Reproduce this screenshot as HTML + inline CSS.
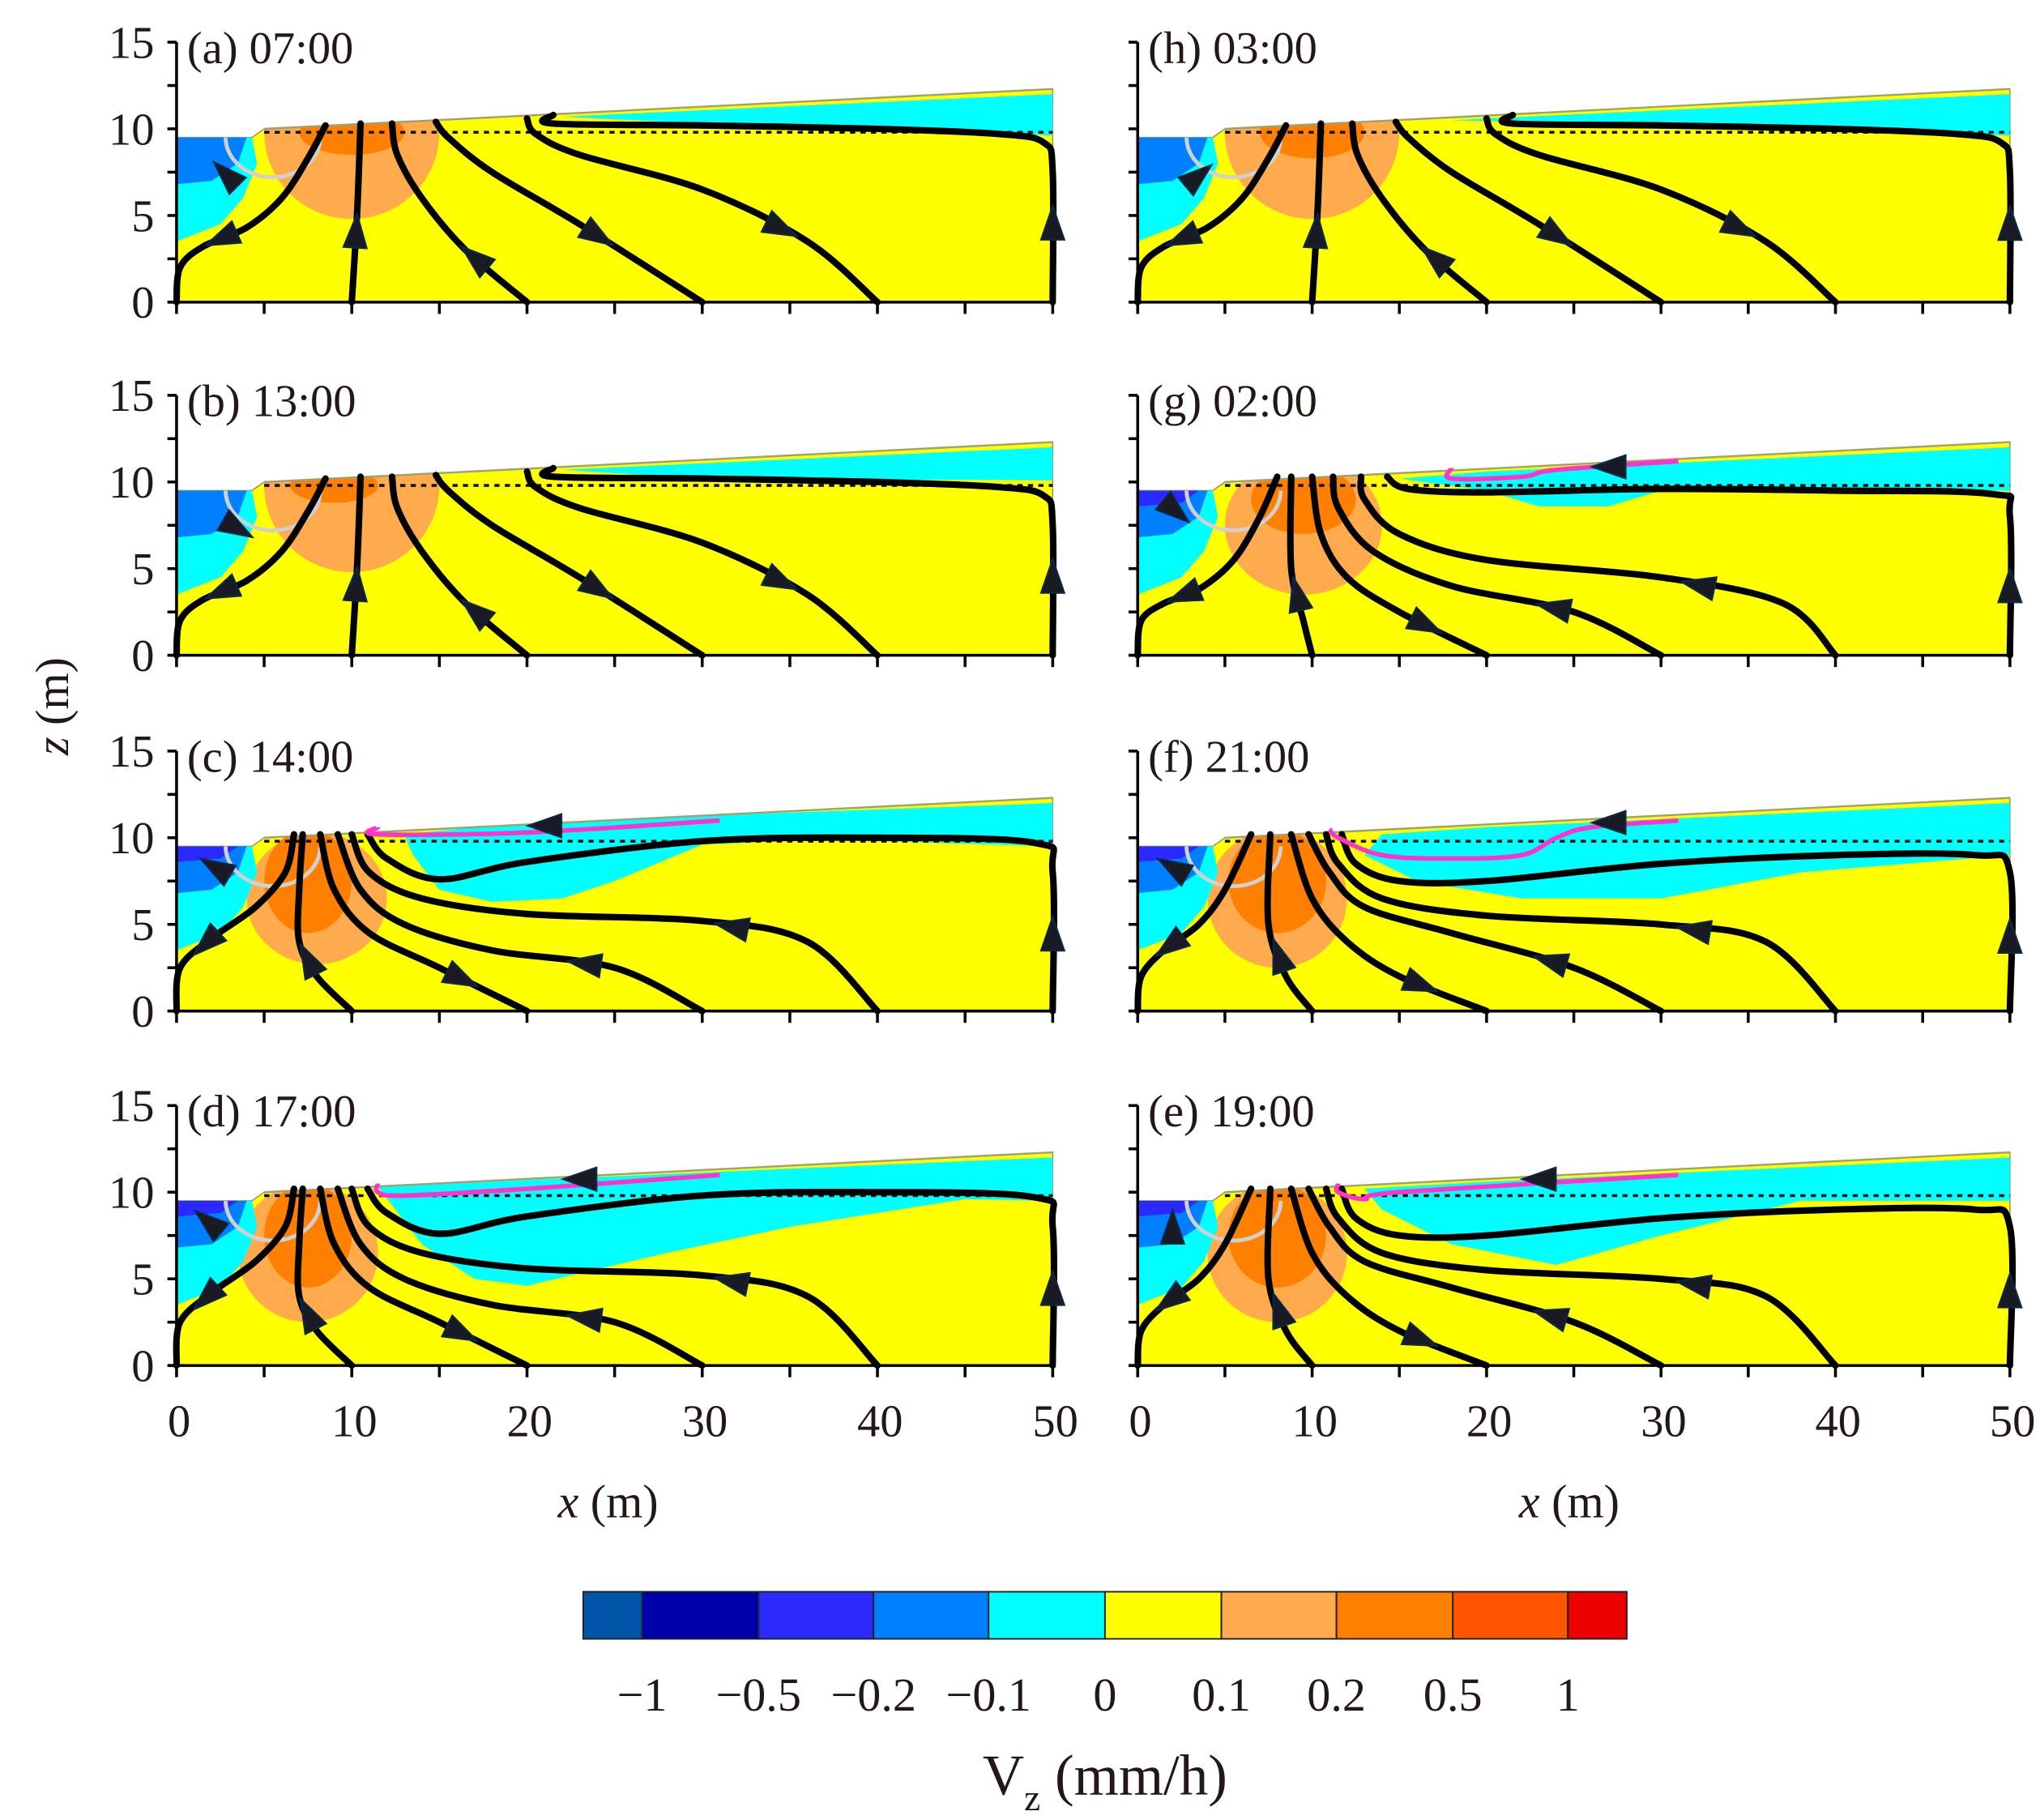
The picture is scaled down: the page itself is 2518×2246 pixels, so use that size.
<!DOCTYPE html>
<html><head><meta charset="utf-8"><style>
html,body{margin:0;padding:0;background:#fff}
svg{display:block}
text{font-family:"Liberation Serif",serif;fill:#231815}
</style></head><body>
<svg id="fig" width="2518" height="2246" viewBox="0 0 1560 1391.5" xmlns="http://www.w3.org/2000/svg">
<defs id="defs"></defs>
<g id="panels"></g>
<text x="0" y="0" font-size="36" text-anchor="middle" transform="translate(52,540) rotate(-90)"><tspan font-style="italic">z</tspan> (m)</text>
<text x="465" y="1160" font-size="36" text-anchor="middle"><tspan font-style="italic">x</tspan> (m)</text>
<text x="1200" y="1160" font-size="36" text-anchor="middle"><tspan font-style="italic">x</tspan> (m)</text>
<g id="colorbar"></g>
<text x="845" y="1372" font-size="44" text-anchor="middle">V<tspan font-size="28" dy="12">z</tspan><tspan dy="-12"> (mm/h)</tspan></text>
</svg>
<script>
const NS="http://www.w3.org/2000/svg";
// layout
const colX0=[135,870], colXS=[13.4,13.34], rowZ0=[231,501,773,1044], ZS=13.25;
const xTicks=[0,10,20,30,40,50];
const yTicks=[0,5,10,15];
// colorbar data
const cbColors=["#0055aa","#0000aa","#2a2aff","#0080ff","#00ffff","#ffff00","#ffaa4d","#ff8000","#ff5500","#ee0000"];
const cbLabels=["\u22121","\u22120.5","\u22120.2","\u22120.1","0","0.1","0.2","0.5","1"];
// panel data
const panelLabels=["(a) 07:00","(b) 13:00","(c) 14:00","(d) 17:00","(h) 03:00","(g) 02:00","(f) 21:00","(e) 19:00"];
const panelCol=[0,0,0,0,1,1,1,1];
const panelRow=[0,1,2,3,0,1,2,3];
const domainPoly=[[0,0],[0,9.5],[4.3,9.5],[5,10],[50,12.3],[50,0]];
const waterLevel=9.8;
const cyanZones=[
 [[22,10.7],[50,12],[50,9.6],[45,9.9],[30,10.3]],
 [[22,10.7],[50,12],[50,10.1],[30,10.2]],
 [[20,10.9],[50,12],[50,9.5],[37,9.9],[30,9.6],[25,7.5],[22,6.5],[18,6.3],[15,7],[13.5,9],[13,10.2]],
 [[11.5,10.3],[20,10.7],[50,12],[50,9.5],[45,9.6],[35,8],[28,6.5],[20,4.6],[17,5],[14,7],[12.5,9]],
 [[18,10.5],[50,12],[50,9.6],[40,9.9],[30,10.2]],
 [[15,10.2],[20,10.6],[50,12],[50,9.5],[30,9.5],[27,8.6],[23,8.6],[20,9.5]],
 [[14,10.2],[20,10.6],[50,12],[50,9],[38,8],[30,6.5],[22,6.5],[16,7.5],[13,9]],
 [[13,10.2],[20,10.6],[50,12],[50,9.5],[38,9.5],[30,7.5],[24,5.8],[18,7],[14,9]]
];
// orange ellipses: [cx,cz,rx,rz]
const orangeLight=[[10,9.8,5,5],[10,9.8,5,5],[8,6.5,4,3.8],[7.5,6.5,4,4],[10,9.8,5,5],[9.5,7.5,4.5,4],[8,6.5,4,4],[8,6.5,4,4]];
const orangeDark=[[10,9.8,3,1.3],[9,9.8,2.5,1],[7.5,7.5,2.5,3],[7.5,7.5,2.5,3],[10,9.8,3,1.5],[9.5,9,3,2],[8,7.5,2.8,3],[8,7.5,2.8,3]];
const leftCyan=[[0,9.5],[4.3,9.5],[4.6,8],[3.8,6],[2.5,4.5],[0,3.5]];
const leftBlue=[[0,9.5],[4,9.5],[3.5,8],[2,7],[0,6.8]];
const leftDark=[[0,9.5],[3.5,9.5],[2.5,8.8],[0,8.6]];
const grayArc=[5.5,9.5,2.7];
const linesA=[
 [[0,0],[0.2,2],[1.5,3.2],[4,4.3],[6,6],[7.5,8.3],[8.5,10.2]],
 [[10,0],[10.3,5],[10.5,10.3]],
 [[20,0],[16.5,3],[14,6],[12.6,8.5],[12.3,10.3]],
 [[30,0],[23,4.5],[18,7.5],[15.5,9.5],[14.8,10.4]],
 [[40,0],[36,3.5],[30,6.5],[23,8.5],[20.5,9.7],[20,10.6]],
 [[21.5,10.8],[21.5,10.3],[30,10.2],[40,10.0],[47,9.7],[49.5,9.2],[50,7.5],[50,0]]
];
const linesC=[
 [[0,0],[0.2,2.5],[2,4.2],[4.5,6],[6.2,8],[6.7,10.2]],
 [[10,0],[8,2],[7,4],[7,7],[7.2,10.2]],
 [[20,0],[15,2.5],[11,4.5],[9,7],[8.2,10.2]],
 [[30,0],[25,2.5],[18,3.5],[13,5],[10.5,7],[9.2,10.2]],
 [[40,0],[36,4],[30,5.2],[20,5.6],[14,6.5],[11,8],[10,10.2]],
 [[50,0],[50,8],[49,9.7],[40,10],[30,9.8],[20,8.6],[15,7.6],[12,8.8],[10.9,10.2]]
];
const linesG=[
 [[0,0],[0.2,2],[1.5,3],[3.5,3.8],[5.5,5.5],[7,8],[8,10.3]],
 [[10,0],[9.5,2],[8.8,5],[8.8,10.3]],
 [[20,0],[15,2.5],[12,4.5],[10.5,7],[10,10.3]],
 [[30,0],[25,2.5],[18,4],[13.5,6],[11.5,8.5],[11.2,10.3]],
 [[40,0],[37,3],[30,4.5],[20,5.5],[15,7],[13,9],[12.8,10.3]],
 [[50,0],[50,8],[49,9.3],[40,9.5],[30,9.6],[20,9.4],[15.5,9.6],[14.3,10.3]]
];
const linesF=[
 [[0,0],[0.2,2],[1.5,3.5],[3.5,5],[5,7],[6.5,10.2]],
 [[10,0],[8.5,2],[7.5,5],[7.6,10.2]],
 [[20,0],[15,2],[12,4],[10,6.5],[8.8,10.2]],
 [[30,0],[25,2.5],[18,4.5],[13,6],[11,8],[9.8,10.2]],
 [[40,0],[36,4],[30,5],[20,5.5],[14,6.5],[11.5,8.5],[10.8,10.2]],
 [[50,0],[50,8],[48,9],[40,9],[30,8.5],[20,7.5],[15,7.5],[12.5,8.5],[11.7,10.2]]
];
const panelLines=[linesA,linesA,linesC,linesC,linesA,linesG,linesF,linesF];
// arrows: [lineIndex, fraction, sign]
const arrowsA=[[0,0.35,-1],[1,0.4,1],[2,0.3,1],[3,0.38,-1],[4,0.3,-1],[5,0.88,-1]];
const arrowsC=[[0,0.35,-1],[1,0.35,1],[2,0.25,-1],[3,0.3,1],[4,0.3,1],[5,0.09,1]];
const panelArrows=[arrowsA,arrowsA,arrowsC,arrowsC,arrowsA,arrowsC,arrowsC,arrowsC];
// gray-arc arrows [x,z,angleDeg]
const arcArrows=[[2.8,7.4,-135],[3.5,7.3,30],[2.2,8.3,-150],[1.8,8.3,-140],[3.5,7.3,-40],[2.2,8.3,40],[2,8.3,-150],[2,8.0,-90]];
const magentaLines=[null,null,
 [[11.5,10.6],[11.5,10.2],[20,10.3],[31,11]],
 [[11.5,10.5],[11.5,10],[13,9.8],[20,10.2],[31,11]],
 null,
 [[18,10.8],[18,10.2],[22,10.3],[24,10.7],[31,11.2]],
 [[11,10.5],[11.5,10],[14,9],[18,8.8],[22,9],[24,10],[26,10.6],[31,11]],
 [[11.5,10.5],[11.5,10],[13,9.6],[15,10],[31,11]]
];
const magentaArrowX=[0,0,21,23,0,27,27,23];

function el(tag,attrs,parent){const e=document.createElementNS(NS,tag);for(const k in attrs)e.setAttribute(k,attrs[k]);parent.appendChild(e);return e;}
function sx(c,x){return colX0[c]+x*colXS[c];}
function sz(r,z){return rowZ0[r]-z*ZS;}
function polyStr(c,r,pts){return pts.map(p=>sx(c,p[0]).toFixed(1)+","+sz(r,p[1]).toFixed(1)).join(" ");}
function smooth(P){let d="M"+P[0][0]+","+P[0][1];for(let i=0;i<P.length-1;i++){const p0=P[Math.max(0,i-1)],p1=P[i],p2=P[i+1],p3=P[Math.min(P.length-1,i+2)];const c1=[p1[0]+(p2[0]-p0[0])/6,p1[1]+(p2[1]-p0[1])/6],c2=[p2[0]-(p3[0]-p1[0])/6,p2[1]-(p3[1]-p1[1])/6];d+=" C"+c1.join(",")+" "+c2.join(",")+" "+p2.join(",");}return d;}
function tri(g,x,y,ang,name){const a=ang*Math.PI/180,L=13,W=9;const ux=Math.cos(a),uy=Math.sin(a);const pts=[[x+ux*L,y+uy*L],[x-ux*L-uy*W,y-uy*L+ux*W],[x-ux*L+uy*W,y-uy*L-ux*W]];const t=el("polygon",{points:pts.map(p=>p.join(",")).join(" "),fill:"#1a1a24",stroke:"#0a2a4a","stroke-width":1.2},g);}
function pointAt(S,f){let tot=0;const seg=[];for(let i=0;i<S.length-1;i++){const l=Math.hypot(S[i+1][0]-S[i][0],S[i+1][1]-S[i][1]);seg.push(l);tot+=l;}let t=f*tot;for(let i=0;i<seg.length;i++){if(t<=seg[i]||i==seg.length-1){const k=seg[i]?t/seg[i]:0;return [S[i][0]+(S[i+1][0]-S[i][0])*k,S[i][1]+(S[i+1][1]-S[i][1])*k,Math.atan2(S[i+1][1]-S[i][1],S[i+1][0]-S[i][0])*180/Math.PI];}t-=seg[i];}}

const root=document.getElementById("panels"), defs=document.getElementById("defs");
for(let p=0;p<8;p++){
 const c=panelCol[p],r=panelRow[p];
 const g=el("g",{},root);
 
 
 const cp=el("clipPath",{id:"clip"+p},defs);
 el("polygon",{points:polyStr(c,r,domainPoly)},cp);
 const dom=el("polygon",{points:polyStr(c,r,domainPoly),fill:"#ffff00",stroke:"#9a9a60","stroke-width":1},g);
 
 
 const cl=el("g",{"clip-path":"url(#clip"+p+")"},g);
 const ol=orangeLight[p],od=orangeDark[p];
 const e1=el("ellipse",{cx:sx(c,ol[0]),cy:sz(r,ol[1]),rx:ol[2]*colXS[c],ry:ol[3]*ZS,fill:"#ffaa4d"},cl);
 
 
 const e2=el("ellipse",{cx:sx(c,od[0]),cy:sz(r,od[1]),rx:od[2]*colXS[c],ry:od[3]*ZS,fill:"#ff8000"},cl);
 
 
 const cz=el("polygon",{points:polyStr(c,r,cyanZones[p]),fill:"#00ffff"},cl);
 
 
 el("polygon",{points:polyStr(c,r,leftCyan),fill:"#00ffff"},cl);
 el("polygon",{points:polyStr(c,r,leftBlue),fill:"#0080ff"},cl);
 if(p>=2&&p!=4) el("polygon",{points:polyStr(c,r,leftDark),fill:"#2a2aff"},cl);
 el("line",{x1:sx(c,5),y1:sz(r,10),x2:sx(c,50),y2:sz(r,12.3),stroke:"#a0a070","stroke-width":1.5},g);
 const ga=grayArc;
 el("path",{d:"M"+sx(c,ga[0]-ga[2])+","+sz(r,ga[1])+" A"+ga[2]*colXS[c]+","+ga[2]*ZS*0.85+" 0 0 0 "+sx(c,ga[0]+ga[2])+","+sz(r,ga[1]),fill:"none",stroke:"#d0d0d0","stroke-width":3},g);
 const wl=el("line",{x1:sx(c,5),y1:sz(r,waterLevel),x2:sx(c,50),y2:sz(r,waterLevel),stroke:"#111","stroke-width":2.2,"stroke-dasharray":"4,4"},g);
 
 
 const L=panelLines[p];
 const scr=L.map(line=>line.map(q=>[+sx(c,q[0]).toFixed(1),+sz(r,q[1]).toFixed(1)]));
 scr.forEach((S,i)=>{const pa=el("path",{d:smooth(S),fill:"none",stroke:"#000","stroke-width":5,"stroke-linecap":"round"},g);
  
  });
 if(magentaLines[p]){const M=magentaLines[p].map(q=>[+sx(c,q[0]).toFixed(1),+sz(r,q[1]).toFixed(1)]);
  const mp=el("path",{d:smooth(M),fill:"none",stroke:"#ff33cc","stroke-width":3.5},g);
  
  
  const mx=magentaArrowX[p];const mz=10+ (mx-5)*2.3/45*0.6+0.2;
  tri(g,sx(c,mx),sz(r,mz),180,'magenta-arrow');}
 panelArrows[p].forEach(a=>{const q=pointAt(scr[a[0]],a[1]);tri(g,q[0],q[1],a[2]>0?q[2]:q[2]+180,'flow-arrow');});
 const aa=arcArrows[p];tri(g,sx(c,aa[0]),sz(r,aa[1]),aa[2],'arc-arrow');
 const ax=el("g",{stroke:"#000","stroke-width":2.2},g);
 
 
 el("line",{x1:sx(c,0),y1:sz(r,0),x2:sx(c,0),y2:sz(r,15)},ax);
 el("line",{x1:sx(c,0)-6,y1:sz(r,0),x2:sx(c,50),y2:sz(r,0)},ax);
 for(let z=0;z<=15;z+=2.5) el("line",{x1:sx(c,0)-7,y1:sz(r,z),x2:sx(c,0),y2:sz(r,z)},ax);
 for(let x=0;x<=50;x+=5) el("line",{x1:sx(c,x),y1:sz(r,0),x2:sx(c,x),y2:sz(r,0)+9},ax);
 if(c==0){yTicks.forEach(v=>{const t=el("text",{x:sx(c,0)-17,y:sz(r,v)+12,"font-size":35,"text-anchor":"end"},g);t.textContent=v;
   
   });}
 if(r==3){xTicks.forEach(v=>{const t=el("text",{x:sx(c,v)+2,y:1098,"font-size":35,"text-anchor":"middle"},g);t.textContent=v;
   
   });}
 const lb=el("text",{x:sx(c,0)+8,y:sz(r,15)+16,"font-size":35},g);lb.textContent=panelLabels[p];
 
 
}
const cb=document.getElementById("colorbar");
const cbEdges=[446,491,580,668,756,845,934,1022,1111,1199,1244];
cbColors.forEach((col,i)=>{const rc=el("rect",{x:cbEdges[i],y:1217,width:cbEdges[i+1]-cbEdges[i],height:36,fill:col,stroke:"#222","stroke-width":1.2},cb);
 
 });
cbLabels.forEach((s,i)=>{const t=el("text",{x:cbEdges[i+1],y:1308,"font-size":36,"text-anchor":"middle"},cb);t.textContent=s;
 
 });
</script>
</body></html>
